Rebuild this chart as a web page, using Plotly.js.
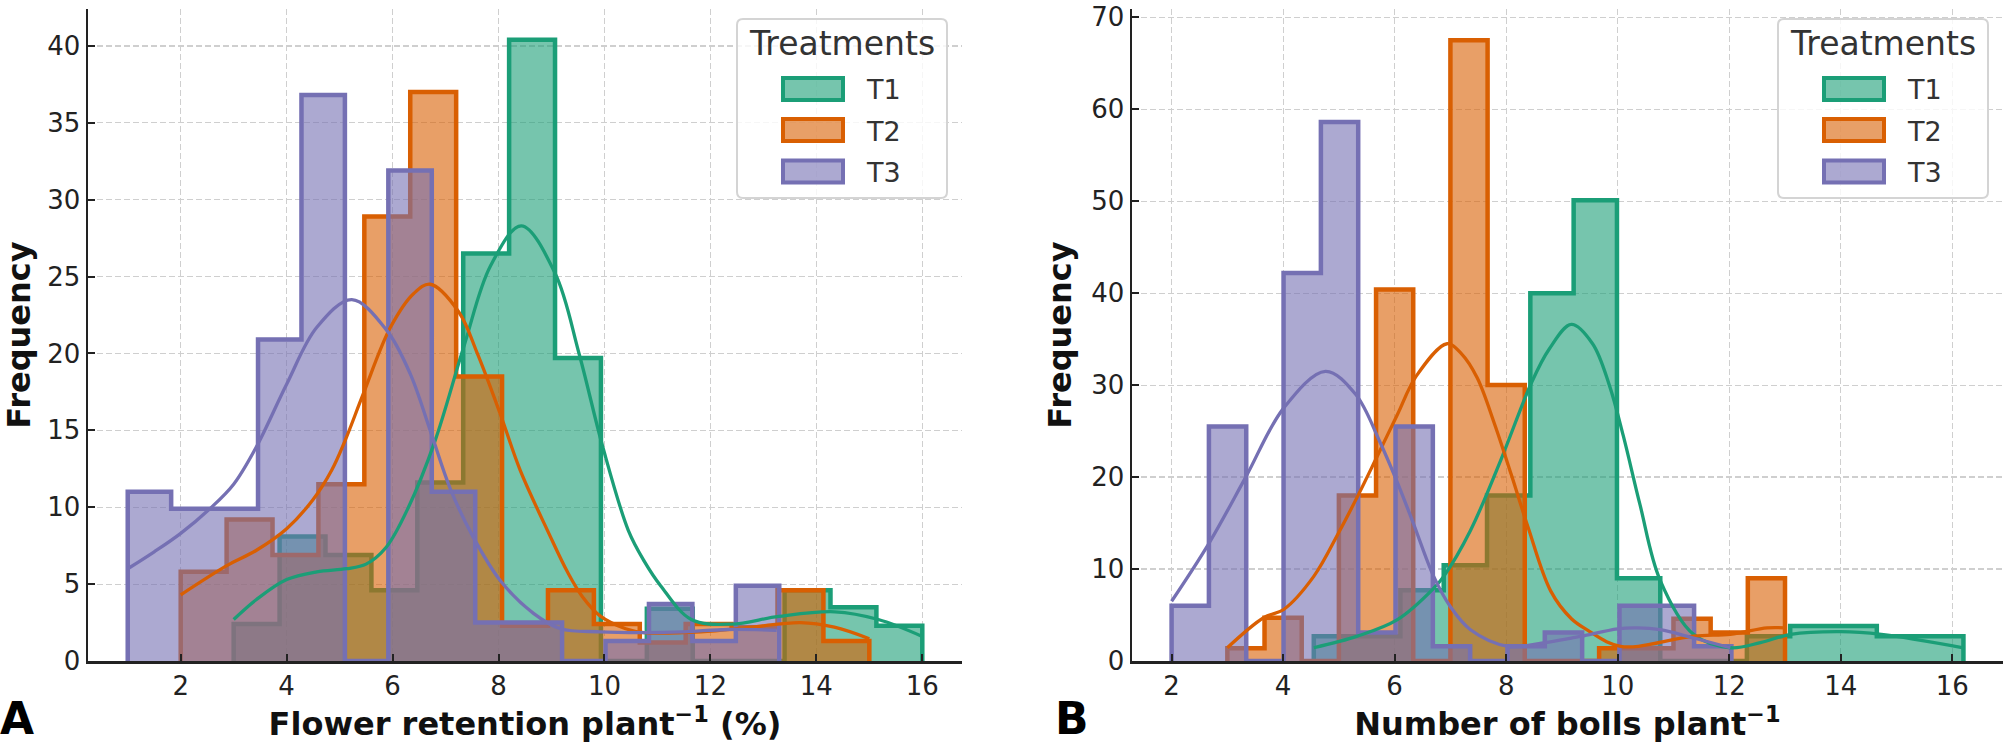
<!DOCTYPE html>
<html>
<head>
<meta charset="utf-8">
<script src="https://cdn.plot.ly/plotly-3.0.1.min.js"></script>
<style>html,body{margin:0;padding:0;background:#fff}#chart{width:2008px;height:746px}</style>
</head>
<body>
<div id="chart"></div>
<script>
// ---------- DATA ----------
const treatments = ["T1", "T2", "T3"];
const colors = ["#1b9e77", "#d95f02", "#7570b3"];
const fills = ["rgba(27,158,119,0.6)", "rgba(217,95,2,0.6)", "rgba(117,112,179,0.6)"];

// Panel A: Flower retention plant^-1 (%)  -- histogram bins (start, width, counts)
const A_T1_start = 3.0, A_T1_width = 0.8667;
const A_T1_counts = [2.4, 8.1, 6.9, 4.6, 11.6, 26.5, 40.4, 19.7, 0, 3.4, 0, 0, 4.6, 3.5, 2.3];
const A_T2_start = 2.0, A_T2_width = 0.8667;
const A_T2_counts = [5.8, 9.2, 6.9, 11.5, 28.9, 37.0, 18.5, 2.3, 4.6, 2.4, 1.2, 2.4, 2.2, 4.6, 1.3];
const A_T3_start = 1.0, A_T3_width = 0.82;
const A_T3_counts = [11.0, 9.9, 9.9, 20.9, 36.8, 0, 31.9, 11.0, 2.5, 2.5, 0, 1.3, 3.7, 1.3, 4.9];

// Panel A KDE curves
const A_T1_kde_x = [3.0, 3.43, 4.0, 4.57, 5.13, 5.5, 5.88, 6.3, 6.8, 7.35, 7.85, 8.43, 9.07, 9.52, 9.97, 10.45, 10.75, 11.06, 11.64, 12.4, 13.29, 14.35, 15.17, 16.0];
const A_T1_kde_y = [2.7, 4.0, 5.3, 5.8, 6.0, 6.3, 7.4, 10.0, 14.3, 20.5, 25.7, 28.3, 25.2, 20.0, 13.9, 8.5, 6.5, 4.9, 2.7, 2.4, 2.9, 3.2, 2.7, 1.6];
const A_T2_kde_x = [2.0, 2.87, 3.43, 4.0, 4.5, 4.85, 5.1, 5.45, 5.96, 6.4, 6.71, 7.25, 7.6, 8.04, 8.41, 8.95, 9.3, 9.58, 9.93, 10.4, 10.75, 11.82, 12.77, 13.7, 14.34, 15.0];
const A_T2_kde_y = [4.3, 6.2, 7.2, 8.6, 10.5, 12.4, 14.3, 17.4, 21.7, 23.9, 24.5, 22.7, 20.0, 16.0, 12.4, 8.3, 5.8, 4.2, 2.9, 2.1, 1.85, 1.9, 2.2, 2.5, 2.2, 1.45];
const A_T3_kde_x = [1.0, 1.5, 2.0, 2.55, 3.0, 3.44, 4.0, 4.57, 5.23, 5.89, 6.33, 6.71, 7.09, 7.5, 8.04, 8.66, 9.17, 9.9, 10.75, 11.5, 12.33, 13.25];
const A_T3_kde_y = [6.0, 7.1, 8.3, 9.9, 11.5, 14.0, 18.0, 21.7, 23.5, 21.5, 18.7, 15.0, 11.2, 8.2, 5.2, 3.1, 2.1, 1.9, 1.85, 1.9, 2.05, 2.0];

// Panel B: Number of bolls plant^-1
const B_T1_start = 4.55, B_T1_width = 0.7767;
const B_T1_counts = [2.7, 2.7, 7.7, 10.4, 18.0, 40.0, 50.1, 9.0, 0, 0, 2.7, 3.8, 3.8, 2.7, 2.7];
const B_T2_start = 3.0, B_T2_width = 0.6667;
const B_T2_counts = [1.4, 4.7, 0, 18.0, 40.4, 0, 67.5, 30.0, 0, 0, 1.4, 1.4, 4.6, 3.1, 9.0];
const B_T3_start = 2.0, B_T3_width = 0.6693;
const B_T3_counts = [6.0, 25.5, 0, 42.2, 58.6, 3.1, 25.5, 1.6, 0, 1.6, 3.1, 0, 6.0, 6.0, 1.6];

// Panel B KDE curves
const B_T1_kde_x = [4.55, 5.33, 6.05, 6.7, 6.88, 7.36, 7.9, 8.45, 8.77, 9.17, 9.55, 9.85, 10.1, 10.4, 10.76, 11.36, 12.02, 12.56, 13.1, 14.0, 14.73, 16.2];
const B_T1_kde_y = [1.44, 2.7, 4.5, 7.9, 9.2, 14.2, 21.8, 30.2, 33.9, 36.6, 34.5, 30.0, 24.5, 17.0, 8.8, 2.9, 1.44, 2.0, 2.9, 3.2, 2.9, 1.44];
const B_T2_kde_x = [3.0, 3.65, 4.01, 4.55, 5.0, 5.36, 5.69, 6.05, 6.39, 6.94, 7.2, 7.48, 7.79, 8.09, 8.39, 8.8, 9.17, 9.5, 9.8, 10.05, 10.37, 11.36, 12.02, 12.68, 13.0];
const B_T2_kde_y = [1.44, 4.7, 5.6, 9.2, 14.0, 18.2, 22.3, 26.8, 31.0, 34.5, 33.4, 30.8, 25.8, 20.3, 14.6, 7.6, 4.6, 3.2, 2.1, 1.6, 1.6, 2.7, 2.9, 3.6, 3.6];
const B_T3_kde_x = [2.0, 2.67, 3.33, 4.01, 4.76, 5.3, 5.73, 6.05, 6.34, 6.7, 7.0, 7.36, 8.03, 8.7, 9.17, 9.36, 10.0, 10.35, 10.76, 11.36, 12.02];
const B_T3_kde_y = [6.5, 12.8, 20.0, 27.5, 31.5, 29.0, 23.9, 19.4, 14.9, 9.2, 5.9, 3.4, 1.6, 2.0, 2.5, 2.7, 3.5, 3.6, 3.4, 2.5, 1.44];

// Tick labels
const A_xticks = [2, 4, 6, 8, 10, 12, 14, 16];
const A_yticks = [0, 5, 10, 15, 20, 25, 30, 35, 40];
const B_xticks = [2, 4, 6, 8, 10, 12, 14, 16];
const B_yticks = [0, 10, 20, 30, 40, 50, 60, 70];

// ---------- BUILD ----------
function stepXY(start, width, counts) {
  const xs = [start], ys = [0];
  for (let i = 0; i < counts.length; i++) { xs.push(start + i * width); ys.push(counts[i]); }
  const end = start + counts.length * width;
  xs.push(end); ys.push(counts[counts.length - 1]);
  xs.push(end); ys.push(0);
  return { xs, ys };
}

const hists = {
  A: [[A_T1_start, A_T1_width, A_T1_counts], [A_T2_start, A_T2_width, A_T2_counts], [A_T3_start, A_T3_width, A_T3_counts]],
  B: [[B_T1_start, B_T1_width, B_T1_counts], [B_T2_start, B_T2_width, B_T2_counts], [B_T3_start, B_T3_width, B_T3_counts]]
};
const kdes = {
  A: [[A_T1_kde_x, A_T1_kde_y], [A_T2_kde_x, A_T2_kde_y], [A_T3_kde_x, A_T3_kde_y]],
  B: [[B_T1_kde_x, B_T1_kde_y], [B_T2_kde_x, B_T2_kde_y], [B_T3_kde_x, B_T3_kde_y]]
};

const traces = [];
[["A", "x", "y"], ["B", "x2", "y2"]].forEach(([p, xa, ya]) => {
  hists[p].forEach((h, i) => {
    const s = stepXY(h[0], h[1], h[2]);
    traces.push({
      type: "scatter", mode: "lines", x: s.xs, y: s.ys, xaxis: xa, yaxis: ya,
      line: { shape: "hv", color: colors[i], width: 4.5 },
      fill: "toself", fillcolor: fills[i], name: treatments[i],
      showlegend: false, hoverinfo: "skip"
    });
  });
});
[["A", "x", "y"], ["B", "x2", "y2"]].forEach(([p, xa, ya]) => {
  kdes[p].forEach((k, i) => {
    traces.push({
      type: "scatter", mode: "lines", x: k[0], y: k[1], xaxis: xa, yaxis: ya,
      line: { shape: "spline", smoothing: 1.0, color: colors[i], width: 3.3 },
      name: treatments[i] + " KDE", showlegend: false, hoverinfo: "skip"
    });
  });
});

const W = 2008, H = 746, PT = 9, PB = 661, PH = PB - PT;
const px = p => p / W;
const py = p => (PB - p) / PH;

const tickFont = { family: "DejaVu Sans", size: 26, color: "#222" };
const titleFont = { family: "DejaVu Sans", size: 32, color: "#111" };
function xAxis(dom, range, ticks, title, anchor) {
  return {
    domain: dom, range: range, tickvals: ticks, ticktext: ticks.map(String), anchor: anchor,
    ticks: "inside", ticklen: 7, tickwidth: 2, tickcolor: "#222", ticklabeloverflow: "allow",
    showline: true, linecolor: "#222", linewidth: 2.5, zeroline: false,
    showgrid: true, gridcolor: "#cfcfcf", griddash: "6px,3px", gridwidth: 1.2,
    tickfont: tickFont, title: { text: "<b>" + title + "</b>", font: titleFont, standoff: 10 }
  };
}
function yAxis(range, ticks, anchor) {
  return {
    domain: [0, 1], range: range, tickvals: ticks, ticktext: ticks.map(String), anchor: anchor,
    ticks: "inside", ticklen: 7, tickwidth: 2, tickcolor: "#222", ticklabeloverflow: "allow",
    showline: true, linecolor: "#222", linewidth: 2.5, zeroline: false,
    showgrid: true, gridcolor: "#cfcfcf", griddash: "6px,3px", gridwidth: 1.2,
    tickfont: tickFont, title: { text: "<b>Frequency</b>", font: titleFont, standoff: 10 }
  };
}

// custom legends
const shapes = [], annotations = [];
function roundRect(x0, y0, x1, y1, r) {
  const X = v => px(v), Y = v => py(v);
  return `M ${X(x0 + r)} ${Y(y0)} L ${X(x1 - r)} ${Y(y0)} Q ${X(x1)} ${Y(y0)} ${X(x1)} ${Y(y0 + r)} ` +
    `L ${X(x1)} ${Y(y1 - r)} Q ${X(x1)} ${Y(y1)} ${X(x1 - r)} ${Y(y1)} L ${X(x0 + r)} ${Y(y1)} ` +
    `Q ${X(x0)} ${Y(y1)} ${X(x0)} ${Y(y1 - r)} L ${X(x0)} ${Y(y0 + r)} Q ${X(x0)} ${Y(y0)} ${X(x0 + r)} ${Y(y0)} Z`;
}
[0, 1041].forEach(off => {
  shapes.push({ type: "path", xref: "paper", yref: "paper", path: roundRect(737 + off, 19, 947 + off, 198, 6),
    fillcolor: "rgba(255,255,255,0.8)", line: { color: "#d4d4d4", width: 2 }, layer: "above" });
  annotations.push({ xref: "paper", yref: "paper", x: px(842 + off), y: py(43), text: "Treatments",
    showarrow: false, xanchor: "center", yanchor: "middle", font: { family: "DejaVu Sans", size: 33, color: "#333" } });
  const rowsY = [89, 130, 171.5];
  treatments.forEach((t, i) => {
    shapes.push({ type: "rect", xref: "paper", yref: "paper", x0: px(783 + off), x1: px(843 + off),
      y0: py(rowsY[i] + 11), y1: py(rowsY[i] - 11), fillcolor: fills[i], line: { color: colors[i], width: 4 }, layer: "above" });
    annotations.push({ xref: "paper", yref: "paper", x: px(864 + off), y: py(rowsY[i] + 1), text: t,
      showarrow: false, xanchor: "left", yanchor: "middle", font: { family: "DejaVu Sans", size: 27, color: "#333" } });
  });
});
annotations.push({ xref: "paper", yref: "paper", x: px(17), y: py(718), text: "<b>A</b>", showarrow: false,
  xanchor: "center", yanchor: "middle", font: { family: "DejaVu Sans", size: 44, color: "#000" } });
annotations.push({ xref: "paper", yref: "paper", x: px(1072), y: py(718), text: "<b>B</b>", showarrow: false,
  xanchor: "center", yanchor: "middle", font: { family: "DejaVu Sans", size: 44, color: "#000" } });

const layout = {
  width: W, height: H, margin: { l: 0, r: 0, t: PT, b: H - PB, pad: 0 },
  paper_bgcolor: "#fff", plot_bgcolor: "#fff", showlegend: false,
  xaxis: xAxis([px(88), px(962)], [0.25, 16.75], A_xticks, "Flower retention plant<sup>−1</sup> (%)", "y"),
  yaxis: yAxis([0, 42.4], A_yticks, "x"),
  xaxis2: xAxis([px(1132), px(2003)], [1.29, 16.91], B_xticks, "Number of bolls plant<sup>−1</sup>", "y2"),
  yaxis2: yAxis([0, 70.9], B_yticks, "x2"),
  shapes: shapes, annotations: annotations
};

Plotly.newPlot("chart", traces, layout, { staticPlot: true, displayModeBar: false });
</script>
</body>
</html>
